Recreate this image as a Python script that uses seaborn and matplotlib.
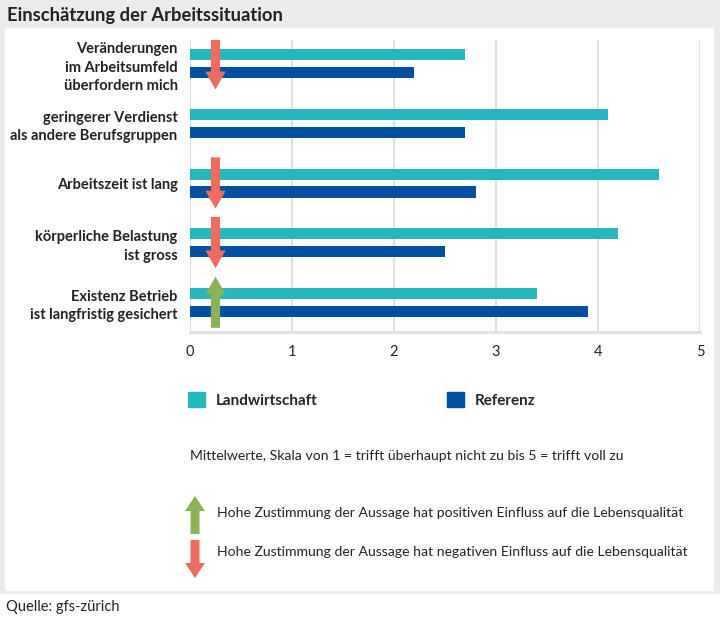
import numpy as np
import pandas as pd
import matplotlib.pyplot as plt
import seaborn as sns
from matplotlib.patches import Rectangle, FancyArrow

# Daten
aussagen = ["Veränderungen\nim Arbeitsumfeld\nüberfordern mich",
            "geringerer Verdienst\nals andere Berufsgruppen",
            "Arbeitszeit ist lang",
            "körperliche Belastung\nist gross",
            "Existenz Betrieb\nist langfristig gesichert"]
landwirtschaft = [2.7, 4.1, 4.6, 4.2, 3.4]
referenz = [2.2, 2.7, 2.8, 2.5, 3.9]
# Einfluss auf die Lebensqualität: -1 negativ, 1 positiv, 0 kein Pfeil
einfluss = [-1, 0, -1, -1, 1]
gruppen = ["Landwirtschaft", "Referenz"]
farben = ["#25b7bc", "#0050a0"]
x_ticks = [0, 1, 2, 3, 4, 5]

df = pd.DataFrame({"Aussage": aussagen * 2,
                   "Gruppe": [gruppen[0]] * len(aussagen) + [gruppen[1]] * len(aussagen),
                   "Wert": landwirtschaft + referenz})

sns.set_theme(style="white")
plt.rcParams['font.family'] = ['Lato', 'DejaVu Sans']

W, H = 720, 620
fig = plt.figure(figsize=(W / 100, H / 100), dpi=100)

# grauer Rahmen + weisse Fläche
fig.patches.append(Rectangle((0, 1 - 593 / H), 1, 593 / H, transform=fig.transFigure,
                             color="#ebebeb", zorder=-3))
fig.patches.append(Rectangle((5 / W, 1 - 590 / H), 708 / W, 562 / H, transform=fig.transFigure,
                             color="white", zorder=-2))

ax = fig.add_axes([190 / W, 1 - 332 / H, 510 / W, 292 / H])
ax.set_facecolor("none")
sns.barplot(data=df, x="Wert", y="Aussage", hue="Gruppe", order=aussagen, hue_order=gruppen,
            palette=farben, saturation=1, orient="h", width=0.6, gap=0.38, linewidth=0,
            ax=ax, legend=False)

ax.set_xlim(0, 5)
ax.set_ylim(4.5, -0.4)
ax.set_xticks(x_ticks)
ax.set_xlabel("")
ax.set_ylabel("")
ax.set_axisbelow(True)
ax.xaxis.grid(True, color="#e0e0e0", linewidth=1.5)
for s in ["top", "right", "left"]:
    ax.spines[s].set_visible(False)
ax.spines["bottom"].set_color("#e0e0e0")
ax.spines["bottom"].set_linewidth(2)
ax.tick_params(axis="x", length=0, pad=9, labelsize=10.5, colors="#222222")
ax.tick_params(axis="y", length=0, pad=9, labelsize=10.5, colors="#222222")
for lab in ax.get_yticklabels():
    lab.set_fontweight("bold")
    lab.set_linespacing(1.4)

# Pfeile im Diagramm
for i, e in enumerate(einfluss):
    if e == 0:
        continue
    col = "#8db255" if e > 0 else "#ec6c5e"
    ax.arrow(0.25, i + 0.43 * e, 0, -0.86 * e, width=0.09, head_width=0.2, head_length=0.3,
             length_includes_head=True, color=col, linewidth=0, zorder=5)

# Legende
handles = [Rectangle((0, 0), 1, 1, color=c) for c in farben]
fig.legend(handles, gruppen, loc="center left", bbox_to_anchor=(188 / W, 1 - 400 / H),
           ncol=2, frameon=False, handlelength=1.1, handleheight=1.1, handletextpad=0.7,
           columnspacing=8.5, borderpad=0, borderaxespad=0,
           prop={"weight": "bold", "size": 11})

fig.text(190 / W, 1 - 456 / H, "Mittelwerte, Skala von 1 = trifft überhaupt nicht zu bis 5 = trifft voll zu",
         fontsize=10.1, va="center", color="#222222")

fig.add_artist(FancyArrow(195 / W, 1 - 534 / H, 0, 38 / H, width=9 / W, head_width=20 / W,
                          head_length=15 / H, length_includes_head=True, color="#8db255",
                          linewidth=0, transform=fig.transFigure))
fig.add_artist(FancyArrow(195 / W, 1 - 540 / H, 0, -38 / H, width=9 / W, head_width=20 / W,
                          head_length=15 / H, length_includes_head=True, color="#ec6c5e",
                          linewidth=0, transform=fig.transFigure))
fig.text(217 / W, 1 - 513 / H, "Hohe Zustimmung der Aussage hat positiven Einfluss auf die Lebensqualität",
         fontsize=10.1, va="center", color="#222222")
fig.text(217 / W, 1 - 552 / H, "Hohe Zustimmung der Aussage hat negativen Einfluss auf die Lebensqualität",
         fontsize=10.1, va="center", color="#222222")

fig.text(7 / W, 1 - 15 / H, "Einschätzung der Arbeitssituation", fontsize=13.2, fontweight="bold",
         va="center", color="#222222")
fig.text(6 / W, 1 - 607 / H, "Quelle: gfs-zürich", fontsize=10.5, va="center", color="#222222")

fig.savefig("out.png", dpi=100)
